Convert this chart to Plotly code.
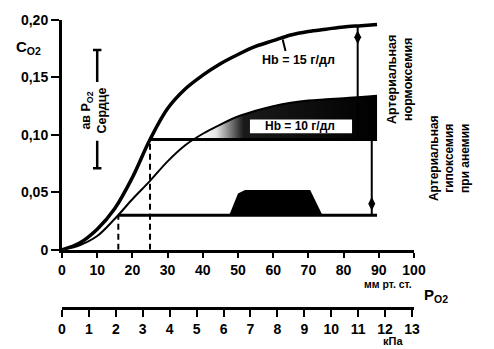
import numpy as np
import plotly.graph_objects as go

# PO2 (mm Hg) and O2 content for two haemoglobin levels
po2 = [0, 5, 10, 15, 20, 25, 30, 35, 40, 45, 50, 55, 60, 65, 70, 75, 80, 85, 89.5]
c_hb15 = [0, 0.006, 0.018, 0.036, 0.063, 0.096, 0.123, 0.140, 0.152, 0.162,
          0.170, 0.177, 0.182, 0.187, 0.190, 0.192, 0.194, 0.195, 0.196]
c_hb10 = [0, 0.004, 0.012, 0.027, 0.044, 0.060, 0.077, 0.091, 0.101, 0.109,
          0.116, 0.121, 0.125, 0.128, 0.130, 0.131, 0.132, 0.133, 0.134]

# venous (heart) levels and where they meet the curves
venous_c_normal = 0.096
venous_c_anemia = 0.030
venous_po2_normal = 25
venous_po2_anemia = 16
arterial_po2 = 89.5

# arrows marking the arterial contents
arrow_norm_x = 84
arrow_norm_y = [0.195, 0.096]
arrow_norm_mark = 0.185
arrow_anem_x = 88
arrow_anem_y = [0.096, 0.030]
arrow_anem_mark = 0.040

# heart a-v bracket
bracket_x = 10
bracket_top = [0.174, 0.146]
bracket_bot = [0.095, 0.071]

# shaded blob on the lower level
blob_x = [47.5, 50.0, 52.0, 70.5, 74.0]
blob_y = [0.030, 0.049, 0.052, 0.052, 0.030]

# axes
y_ticks = [0, 0.05, 0.10, 0.15, 0.20]
y_labels = ["0", "0,05", "0,10", "0,15", "0,20"]
x_ticks = list(range(0, 101, 10))
kpa_ticks = list(range(0, 14))

FONT = "Liberation Sans, Arial, sans-serif"
INK = "black"

fig = go.Figure()

# shaded region between the Hb=10 curve and the venous level
x_cross = float(np.interp(venous_c_normal, c_hb10, po2))
fx = [x_cross] + [x for x in po2 if x > x_cross]
fy = [venous_c_normal] + [c for x, c in zip(po2, c_hb10) if x > x_cross]
fx += [arterial_po2, x_cross]
fy += [venous_c_normal, venous_c_normal]
fig.add_trace(go.Scatter(
    x=fx, y=fy, mode="lines", fill="toself", line=dict(width=0),
    fillcolor="black",
    fillgradient=dict(type="horizontal",
                      colorscale=[[0, "#ffffff"], [0.12, "#e6e6e6"],
                                  [0.27, "#1a1a1a"], [1, "#000000"]]),
    hoverinfo="skip", showlegend=False))

fig.add_trace(go.Scatter(
    x=blob_x, y=blob_y, mode="lines", fill="toself", fillcolor=INK,
    line=dict(width=0, color=INK), hoverinfo="skip", showlegend=False))

# dissociation curves
fig.add_trace(go.Scatter(x=po2, y=c_hb15, mode="lines",
                         line=dict(color=INK, width=3.5, shape="spline"),
                         showlegend=False, hoverinfo="skip"))
fig.add_trace(go.Scatter(x=po2, y=c_hb10, mode="lines",
                         line=dict(color=INK, width=2, shape="spline"),
                         showlegend=False, hoverinfo="skip"))

# venous levels
fig.add_trace(go.Scatter(x=[venous_po2_normal, arterial_po2],
                         y=[venous_c_normal, venous_c_normal], mode="lines",
                         line=dict(color=INK, width=3), showlegend=False,
                         hoverinfo="skip"))
fig.add_trace(go.Scatter(x=[venous_po2_anemia, arterial_po2],
                         y=[venous_c_anemia, venous_c_anemia], mode="lines",
                         line=dict(color=INK, width=3), showlegend=False,
                         hoverinfo="skip"))

# dashed drops to the PO2 axis
for xv, yv in [(venous_po2_normal, venous_c_normal),
               (venous_po2_anemia, venous_c_anemia)]:
    fig.add_trace(go.Scatter(x=[xv, xv], y=[0, yv], mode="lines",
                             line=dict(color=INK, width=2, dash="6px,4px"),
                             showlegend=False, hoverinfo="skip"))

# arterial content arrows
fig.add_trace(go.Scatter(x=[arrow_norm_x] * 2, y=arrow_norm_y, mode="lines",
                         line=dict(color=INK, width=2), showlegend=False,
                         hoverinfo="skip"))
fig.add_trace(go.Scatter(x=[arrow_anem_x] * 2, y=arrow_anem_y, mode="lines",
                         line=dict(color=INK, width=2), showlegend=False,
                         hoverinfo="skip"))
fig.add_trace(go.Scatter(x=[arrow_norm_x, arrow_anem_x],
                         y=[arrow_norm_mark, arrow_anem_mark], mode="markers",
                         marker=dict(symbol="diamond-tall", size=10, color=INK),
                         showlegend=False, hoverinfo="skip"))

# Hb=15 leader
fig.add_trace(go.Scatter(x=[62.7, 63.5], y=[0.183, 0.173], mode="lines",
                         line=dict(color=INK, width=2), showlegend=False,
                         hoverinfo="skip"))

# heart a-v bracket
for seg in (bracket_top, bracket_bot):
    fig.add_trace(go.Scatter(x=[bracket_x] * 2, y=seg, mode="lines",
                             line=dict(color=INK, width=2.5), showlegend=False,
                             hoverinfo="skip"))
for yc in (bracket_top[0], bracket_bot[1]):
    fig.add_trace(go.Scatter(x=[bracket_x - 1.2, bracket_x + 1.2], y=[yc, yc],
                             mode="lines", line=dict(color=INK, width=2.5),
                             showlegend=False, hoverinfo="skip"))

# carrier for the kPa scale
fig.add_trace(go.Scatter(x=[0, 13], y=[-1, -1], xaxis="x2", yaxis="y",
                         mode="lines", line=dict(width=0), showlegend=False,
                         hoverinfo="skip"))

# white band behind the Hb=10 label
fig.add_shape(type="rect", x0=53.4, x1=82.4, y0=0.1015, y1=0.1135,
              fillcolor="white", line=dict(width=0), layer="above")

bold = dict(family=FONT, color=INK, weight="bold")

fig.update_layout(
    width=494, height=349,
    margin=dict(l=62, r=80, t=12, b=40),
    paper_bgcolor="white", plot_bgcolor="white",
    font=dict(family=FONT, color=INK),
    xaxis=dict(range=[0, 100], tickvals=x_ticks, showline=True, linewidth=3,
               linecolor=INK, ticks="outside", ticklen=5, tickwidth=2,
               tickcolor=INK, showgrid=False, zeroline=False,
               tickfont=dict(size=14, **bold), anchor="y"),
    xaxis2=dict(range=[0, 13.075], tickvals=kpa_ticks, overlaying="x",
                anchor="free", position=0, side="bottom", showline=True,
                linewidth=2.5, linecolor=INK, ticks="outside", ticklen=7,
                tickwidth=2, tickcolor=INK, showgrid=False, zeroline=False,
                tickfont=dict(size=14, **bold)),
    yaxis=dict(range=[0, 0.2], domain=[0.202, 1], tickvals=y_ticks,
               ticktext=y_labels, showline=True, linewidth=3, linecolor=INK,
               ticks="outside", ticklen=8, tickwidth=2, tickcolor=INK,
               showgrid=False, zeroline=False,
               tickfont=dict(size=14, **bold)),
)

ann = [
    dict(text="C<sub>O2</sub>", xref="paper", yref="paper", x=-0.094, y=0.905,
         font=dict(size=15, **bold)),
    dict(text="мм рт. ст.", xref="paper", yref="paper", x=0.926, y=0.083,
         font=dict(size=10.5, **bold)),
    dict(text="P<sub>O2</sub>", xref="paper", yref="paper", x=1.063, y=0.045,
         font=dict(size=15, **bold)),
    dict(text="кПа", xref="paper", yref="paper", x=0.94, y=-0.113,
         font=dict(size=11, **bold)),
    dict(text="Hb = 15 г/дл", x=67.3, y=0.165, font=dict(size=12.5, **bold)),
    dict(text="Hb = 10 г/дл", x=67.5, y=0.1075, font=dict(size=12, **bold)),
    dict(text="ав P<sub>O2</sub><br>Сердце", x=9.0, y=0.121, textangle=-90,
         font=dict(size=12.5, **bold)),
    dict(text="Артериальная<br>нормоксемия", xref="paper", yref="paper",
         x=0.96, y=0.795, textangle=-90, font=dict(size=12.5, **bold)),
    dict(text="Артериальная<br>гипоксемия<br>при анемии", xref="paper",
         yref="paper", x=1.099, y=0.52, textangle=-90,
         font=dict(size=12, **bold)),
]
for a in ann:
    a.setdefault("xref", "x")
    a.setdefault("yref", "y")
    a.update(showarrow=False, xanchor="center", yanchor="middle")
    fig.add_annotation(**a)

fig.write_html("out.html")
